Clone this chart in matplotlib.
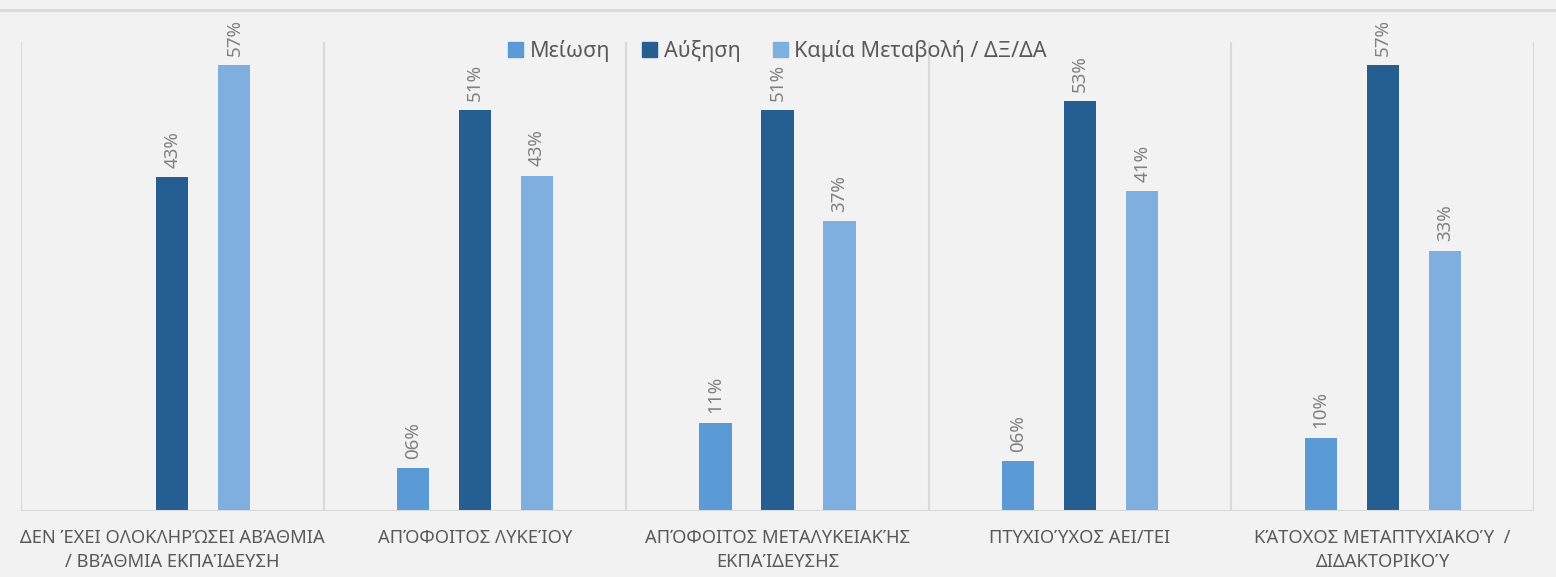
import numpy as np
import matplotlib
matplotlib.use("Agg")
from matplotlib import pyplot as plt
from matplotlib.lines import Line2D

categories = [
    "ΔΕΝ ΈΧΕΙ ΟΛΟΚΛΗΡΏΣΕΙ ΑΒΆΘΜΙΑ\n/ ΒΒΆΘΜΙΑ ΕΚΠΑΊΔΕΥΣΗ",
    "ΑΠΌΦΟΙΤΟΣ ΛΥΚΕΊΟΥ",
    "ΑΠΌΦΟΙΤΟΣ ΜΕΤΑΛΥΚΕΙΑΚΉΣ\nΕΚΠΑΊΔΕΥΣΗΣ",
    "ΠΤΥΧΙΟΎΧΟΣ ΑΕΙ/ΤΕΙ",
    "ΚΆΤΟΧΟΣ ΜΕΤΑΠΤΥΧΙΑΚΟΎ  /\nΔΙΔΑΚΤΟΡΙΚΟΎ",
]
series_names = ["Μείωση", "Αύξηση", "Καμία Μεταβολή / ΔΞ/ΔΑ"]
meiosi = [None, 0.055, 0.113, 0.064, 0.094]
auxisi = [0.427, 0.513, 0.513, 0.524, 0.570]
kamia = [0.570, 0.429, 0.371, 0.409, 0.333]
meiosi_labels = ["", "06%", "11%", "06%", "10%"]
auxisi_labels = ["43%", "51%", "51%", "53%", "57%"]
kamia_labels = ["57%", "43%", "37%", "41%", "33%"]

colors = ["#5B9BD5", "#255E91", "#7EAFDE"]
bg = "#F2F2F2"
grid_c = "#D9D9D9"
text_c = "#595959"
label_c = "#808080"

plt.rcParams["font.family"] = ["Liberation Sans Narrow", "Noto Sans", "DejaVu Sans"]

fig = plt.figure(figsize=(15.56, 5.77), dpi=100, facecolor=bg)
ax = fig.add_axes([21 / 1556, 66 / 577, 1513 / 1556, 469 / 577])
ax.set_facecolor(bg)

x = np.arange(len(categories))
width = 0.106
step = 0.205
all_series = [meiosi, auxisi, kamia]
all_labels = [meiosi_labels, auxisi_labels, kamia_labels]
for i, (vals, labs) in enumerate(zip(all_series, all_labels)):
    pos = x + (i - 1) * step
    for p, v, lab in zip(pos, vals, labs):
        if v is None:
            continue
        ax.bar(p, v, width=width, color=colors[i], zorder=3)
        ax.text(p, v + 0.012, lab, rotation=90, ha="center", va="bottom",
                fontsize=13.5, color=label_c, zorder=4)

ax.set_xlim(-0.5, len(categories) - 0.5)
ax.set_ylim(0, 0.6)
ax.set_yticks([])
ax.set_xticks(x)
ax.set_xticklabels(categories, fontsize=13.2, color=text_c, linespacing=1.45)
ax.tick_params(axis="x", length=0, pad=13)
for b in np.arange(-0.5, len(categories), 1):
    ax.axvline(b, color=grid_c, lw=1.5, zorder=1)
for s in ax.spines.values():
    s.set_visible(False)
ax.axhline(0, color=grid_c, lw=1.5, zorder=5)

handles = [plt.Rectangle((0, 0), 1, 1, color=c) for c in colors]
ax.legend(handles, series_names, loc="upper center", bbox_to_anchor=(0.5, 1.045),
          ncol=3, frameon=False, fontsize=15.5, handlelength=0.7, handleheight=0.7,
          handletextpad=0.3, columnspacing=1.5, labelcolor=text_c)

fig.add_artist(Line2D([0, 1], [1 - 10 / 577, 1 - 10 / 577], color=grid_c, lw=2,
                      transform=fig.transFigure))

fig.savefig("out.png", dpi=100, facecolor=bg)
